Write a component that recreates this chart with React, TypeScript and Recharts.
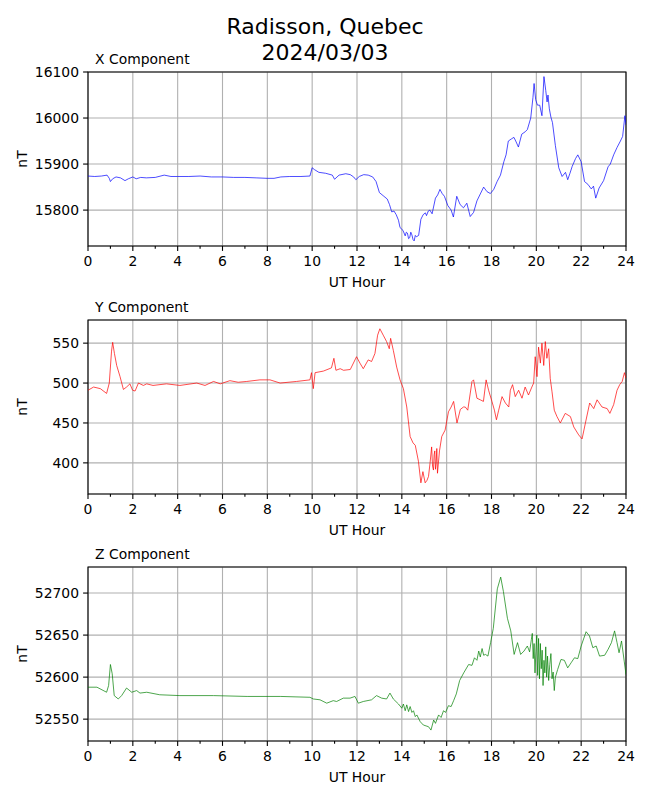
import React from 'react';
import { LineChart, Line, XAxis, YAxis, CartesianGrid, ReferenceArea } from 'recharts';

const FONT = '"DejaVu Sans", sans-serif';

const hourTicks = [0, 1, 2, 3, 4, 5, 6, 7, 8, 9, 10, 11, 12, 13, 14, 15, 16, 17, 18, 19, 20, 21, 22, 23, 24];
const gridHours = [0, 2, 4, 6, 8, 10, 12, 14, 16, 18, 20, 22, 24];

// X component (nT)
const xHours = [
  0, 0.3, 0.6, 0.85, 0.95, 1.0, 1.1, 1.25, 1.45, 1.65, 1.8, 2.0, 2.15, 2.35, 2.6, 3.0, 3.4, 3.7, 4.0, 4.5,
  5.0, 5.5, 6.0, 6.5, 7.0, 7.5, 8.0, 8.3, 8.6, 9.0, 9.5, 9.9, 10.0, 10.1, 10.3, 10.6, 10.9, 11.0, 11.2, 11.5,
  11.7, 11.85, 11.95, 12.1, 12.3, 12.5, 12.7, 12.85, 13.0, 13.2, 13.35, 13.45, 13.55, 13.65, 13.75, 13.85, 13.92, 14.05, 14.15, 14.2,
  14.25, 14.3, 14.35, 14.4, 14.45, 14.5, 14.55, 14.6, 14.65, 14.75, 14.85, 14.95, 15.05, 15.1, 15.18, 15.25, 15.35, 15.5, 15.6, 15.7,
  15.8, 15.9, 16.05, 16.2, 16.3, 16.45, 16.6, 16.75, 16.9, 17.05, 17.2, 17.35, 17.5, 17.65, 17.8, 17.95, 18.1, 18.25, 18.4, 18.55,
  18.65, 18.75, 18.9, 19.0, 19.1, 19.2, 19.35, 19.5, 19.6, 19.75, 19.85, 19.9, 19.97, 20.05, 20.15, 20.25, 20.34, 20.42, 20.48, 20.52,
  20.58, 20.65, 20.72, 20.85, 21.0, 21.15, 21.3, 21.4, 21.5, 21.6, 21.75, 21.85, 22.0, 22.15, 22.3, 22.45, 22.55, 22.65, 22.8, 23.0,
  23.2, 23.3, 23.45, 23.6, 23.75, 23.85, 23.95, 24.0,
];
const xValues = [
  15874, 15873, 15874, 15876, 15869, 15862, 15868, 15872, 15870, 15864, 15868, 15872, 15868, 15871, 15870, 15871, 15876, 15873, 15873, 15873,
  15874, 15872, 15872, 15871, 15871, 15870, 15869, 15869, 15872, 15873, 15873, 15874, 15892, 15888, 15882, 15880, 15876, 15867, 15876, 15879,
  15877, 15872, 15866, 15873, 15877, 15876, 15872, 15862, 15838, 15830, 15824, 15812, 15796, 15798, 15790, 15778, 15762, 15756, 15744, 15752,
  15750, 15738, 15740, 15752, 15746, 15736, 15733, 15745, 15742, 15745, 15780, 15790, 15794, 15788, 15798, 15800, 15792, 15826, 15833, 15845,
  15836, 15830, 15810, 15800, 15785, 15830, 15812, 15805, 15815, 15786, 15795, 15820, 15835, 15850, 15840, 15836, 15845, 15862, 15876, 15905,
  15920, 15950, 15955, 15958, 15948, 15937, 15965, 15970, 15975, 16000, 16045, 16075, 16040, 16028, 16028, 16005, 16090, 16060, 16035, 16050,
  16020, 16002, 15990, 15940, 15892, 15873, 15882, 15866, 15880, 15895, 15912, 15920, 15905, 15862, 15856, 15846, 15852, 15826, 15848, 15864,
  15894, 15900, 15920, 15936, 15950, 15960, 16005, 15985,
];

// Y component (nT)
const yHours = [
  0, 0.25, 0.55, 0.83, 0.95, 1.05, 1.1, 1.18, 1.28, 1.43, 1.58, 1.72, 1.87, 1.99, 2.1, 2.25, 2.47, 2.62, 2.9, 3.5,
  4.1, 4.85, 5.22, 5.6, 5.9, 6.33, 6.7, 7.08, 7.67, 8.12, 8.57, 9.3, 9.9, 9.97, 10.05, 10.13, 10.5, 10.86, 10.97, 11.06,
  11.25, 11.4, 11.7, 11.98, 12.13, 12.28, 12.5, 12.65, 12.8, 12.92, 13.02, 13.17, 13.32, 13.44, 13.5, 13.62, 13.77, 13.92, 14.07, 14.22,
  14.37, 14.5, 14.6, 14.74, 14.85, 14.94, 15.04, 15.12, 15.19, 15.26, 15.33, 15.37, 15.41, 15.44, 15.47, 15.5, 15.53, 15.56, 15.59, 15.68,
  15.78, 15.93, 16.08, 16.2, 16.31, 16.46, 16.61, 16.75, 16.83, 16.94, 17.13, 17.2, 17.35, 17.5, 17.64, 17.76, 17.87, 18.02, 18.13, 18.22,
  18.32, 18.47, 18.62, 18.77, 18.84, 18.94, 19.06, 19.21, 19.36, 19.5, 19.65, 19.8, 19.88, 19.95, 20.03, 20.1, 20.18, 20.25, 20.33, 20.4,
  20.47, 20.55, 20.62, 20.7, 20.8, 20.92, 21.07, 21.29, 21.52, 21.67, 21.89, 22.04, 22.19, 22.38, 22.56, 22.71, 22.93, 23.16, 23.28, 23.45,
  23.6, 23.72, 23.83, 23.93, 24.0,
];
const yValues = [
  491, 495, 493, 487, 500, 540, 551, 537, 522, 508, 492, 495, 499, 491, 490, 500, 497, 499, 497, 499,
  497, 500, 497, 502, 499, 503, 501, 502, 504, 504, 500, 502, 504, 513, 493, 513, 515, 519, 531, 516,
  518, 516, 517, 533, 525, 518, 529, 527, 537, 560, 568, 560, 552, 543, 556, 541, 520, 504, 493, 470,
  433, 425, 422, 402, 375, 389, 375, 378, 383, 400, 420, 396, 391, 410, 415, 392, 400, 418, 387, 415,
  433, 441, 464, 470, 477, 450, 467, 470, 470, 466, 502, 504, 481, 479, 477, 504, 491, 477, 466, 454,
  466, 483, 475, 470, 491, 498, 483, 491, 481, 495, 485, 495, 500, 533, 508, 545, 525, 550, 522, 552,
  531, 543, 506, 489, 466, 458, 450, 462, 458, 445, 435, 430, 450, 475, 468, 479, 470, 468, 462, 473,
  491, 498, 502, 513, 506,
];

// Z component (nT)
const zHours = [
  0, 0.4, 0.83, 0.92, 1.0, 1.08, 1.17, 1.35, 1.5, 1.72, 1.95, 2.17, 2.32, 2.62, 3.2, 4.1, 5.6, 7.1, 8.6, 9.9,
  10.05, 10.35, 10.65, 10.94, 11.09, 11.39, 11.69, 11.91, 12.06, 12.28, 12.65, 12.87, 13.1, 13.32, 13.47, 13.62, 13.85, 14.0, 14.07, 14.15,
  14.22, 14.3, 14.37, 14.45, 14.52, 14.6, 14.67, 14.82, 14.96, 15.19, 15.3, 15.42, 15.5, 15.64, 15.75, 15.86, 15.95, 16.08, 16.2, 16.31,
  16.43, 16.58, 16.76, 16.98, 17.13, 17.24, 17.35, 17.43, 17.5, 17.58, 17.65, 17.73, 17.84, 17.96, 18.08, 18.26, 18.41, 18.53, 18.71, 18.86,
  19.01, 19.16, 19.3, 19.45, 19.6, 19.7, 19.78, 19.82, 19.86, 19.9, 19.94, 19.98, 20.02, 20.06, 20.1, 20.14, 20.18, 20.22, 20.26, 20.3,
  20.34, 20.38, 20.42, 20.46, 20.5, 20.55, 20.6, 20.65, 20.7, 20.75, 20.8, 20.85, 20.95, 21.1, 21.25, 21.4, 21.55, 21.7, 21.85, 22.0,
  22.22, 22.37, 22.52, 22.67, 22.82, 23.05, 23.2, 23.35, 23.49, 23.6, 23.69, 23.8, 23.92, 24.0,
];
const zValues = [
  52588, 52588, 52582, 52590, 52615, 52604, 52578, 52574, 52578, 52587, 52582, 52584, 52581, 52582, 52579, 52578, 52578, 52577, 52577, 52576,
  52574, 52573, 52569, 52572, 52571, 52575, 52575, 52577, 52569, 52571, 52573, 52578, 52575, 52574, 52581, 52574, 52568, 52563, 52568, 52560,
  52567, 52559, 52565, 52558, 52560, 52553, 52555, 52547, 52543, 52541, 52537, 52549, 52545, 52555, 52552, 52560, 52558, 52566, 52565, 52572,
  52580, 52596, 52605, 52615, 52614, 52623, 52620, 52631, 52624, 52634, 52626, 52627, 52625, 52641, 52658, 52705, 52719, 52702, 52670, 52655,
  52627, 52641, 52627, 52631, 52637, 52630, 52645, 52652, 52622, 52640, 52605, 52630, 52650, 52602, 52646, 52598, 52640, 52610, 52632, 52590,
  52620, 52605, 52636, 52600, 52625, 52596, 52615, 52628, 52598, 52606, 52584, 52600, 52609, 52621, 52620, 52611, 52617, 52623, 52622, 52637,
  52654, 52649, 52635, 52637, 52625, 52626, 52633, 52641, 52655, 52641, 52629, 52643, 52619, 52603,
];

const xTicks = [15800, 15900, 16000, 16100];
const yTicks = [400, 450, 500, 550];
const zTicks = [52550, 52600, 52650, 52700];

const xDomain: [number, number] = [15722, 16100];
const yDomain: [number, number] = [361, 579];
const zDomain: [number, number] = [52524, 52731];

const HourTick = (props: any) => {
  const { x, y, payload } = props;
  const major = payload.value % 2 === 0;
  return (
    <g>
      <line x1={x} x2={x} y1={y} y2={y + (major ? 4.9 : 2.8)} stroke="#000" strokeWidth={1.1} />
      {major && (
        <text x={x} y={y + 20} textAnchor="middle" fontSize={13.9} fontFamily={FONT} fill="#000">
          {payload.value}
        </text>
      )}
    </g>
  );
};

const ValueTick = (props: any) => {
  const { x, y, payload } = props;
  return (
    <g>
      <line x1={x - 4.9} x2={x} y1={y} y2={y} stroke="#000" strokeWidth={1.1} />
      <text x={x - 9} y={y} dy="0.36em" textAnchor="end" fontSize={13.9} fontFamily={FONT} fill="#000">
        {payload.value}
      </text>
    </g>
  );
};

const Panel = ({ top, hours, values, color, domain, ticks }: any) => {
  const data = hours.map((h: number, i: number) => ({ h, v: values[i] }));
  return (
    <div style={{ position: 'absolute', left: 0, top: top - 10 }}>
      <LineChart width={650} height={214} data={data} margin={{ top: 10, right: 24, bottom: 0, left: 28 }}>
        <CartesianGrid stroke="#b0b0b0" strokeWidth={1.1} verticalValues={gridHours} />
        <XAxis
          dataKey="h"
          type="number"
          domain={[0, 24]}
          ticks={hourTicks}
          interval={0}
          tick={<HourTick />}
          tickLine={false}
          axisLine={false}
          tickSize={0}
          tickMargin={0}
          height={30}
          allowDataOverflow
        />
        <YAxis
          type="number"
          domain={domain}
          ticks={ticks}
          interval={0}
          tick={<ValueTick />}
          tickLine={false}
          axisLine={false}
          tickSize={0}
          tickMargin={0}
          width={60}
          allowDataOverflow
        />
        <ReferenceArea x1={0} x2={24} y1={domain[0]} y2={domain[1]} fill="none" fillOpacity={0} stroke="#000" strokeWidth={1.1} />
        <Line type="linear" dataKey="v" stroke={color} strokeWidth={0.7} dot={false} isAnimationActive={false} />
      </LineChart>
    </div>
  );
};

const panelTops = [72, 320, 567];
const panelTitles = ['X Component', 'Y Component', 'Z Component'];

export default function App() {
  return (
    <div style={{ position: 'absolute', left: 0, top: 0, width: 650, height: 800, background: '#fff' }}>
      <Panel top={panelTops[0]} hours={xHours} values={xValues} color="#0000ff" domain={xDomain} ticks={xTicks} />
      <Panel top={panelTops[1]} hours={yHours} values={yValues} color="#ff0000" domain={yDomain} ticks={yTicks} />
      <Panel top={panelTops[2]} hours={zHours} values={zValues} color="#008000" domain={zDomain} ticks={zTicks} />
      <svg width={650} height={800} style={{ position: 'absolute', left: 0, top: 0, pointerEvents: 'none' }}>
        <text x={325} y={34} textAnchor="middle" fontSize={22} fontFamily={FONT} fill="#000">Radisson, Quebec</text>
        <text x={325} y={60} textAnchor="middle" fontSize={22} fontFamily={FONT} fill="#000">2024/03/03</text>
        {panelTops.map((t, i) => (
          <g key={i}>
            <text x={95} y={t - 8} fontSize={13.9} fontFamily={FONT} fill="#000">{panelTitles[i]}</text>
            <text x={357} y={t + 215} textAnchor="middle" fontSize={13.9} fontFamily={FONT} fill="#000">UT Hour</text>
            <text
              x={27}
              y={t + 87}
              textAnchor="middle"
              fontSize={13.9}
              fontFamily={FONT}
              fill="#000"
              transform={`rotate(-90, 27, ${t + 87})`}
            >
              nT
            </text>
          </g>
        ))}
      </svg>
    </div>
  );
}
